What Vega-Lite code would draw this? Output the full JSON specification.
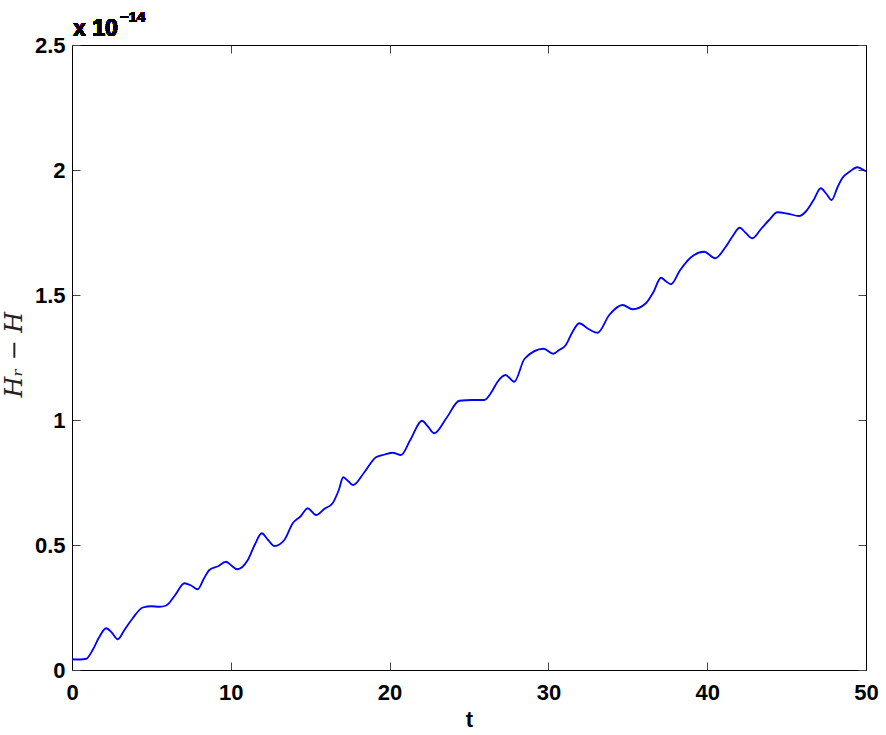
{
  "$schema": "https://vega.github.io/schema/vega-lite/v6.json",
  "autosize": {"type": "none"},
  "width": 794,
  "height": 625,
  "padding": {"left": 72, "top": 45, "right": 20, "bottom": 65},
  "background": "white",
  "config": {
    "view": {"stroke": null},
    "axis": {
      "grid": false,
      "domainColor": "#000",
      "domainWidth": 1,
      "tickColor": "#444",
      "tickWidth": 1,
      "tickSize": -8,
      "labelFlush": false,
      "labelOverlap": false,
      "labelFont": "Liberation Sans",
      "labelFontWeight": "bold",
      "labelFontSize": 22,
      "labelColor": "#000",
      "titleColor": "#000"
    }
  },
  "data": {
    "values": [
      {"t": 0, "v": 0.043}, {"t": 0.5, "v": 0.042}, {"t": 0.9, "v": 0.045}, {"t": 1.3, "v": 0.08},
      {"t": 1.7, "v": 0.13}, {"t": 2.15, "v": 0.167}, {"t": 2.5, "v": 0.15}, {"t": 2.88, "v": 0.123},
      {"t": 3.3, "v": 0.16}, {"t": 3.8, "v": 0.205}, {"t": 4.46, "v": 0.25}, {"t": 5.0, "v": 0.255},
      {"t": 5.5, "v": 0.253}, {"t": 5.93, "v": 0.258}, {"t": 6.5, "v": 0.3}, {"t": 7.08, "v": 0.347},
      {"t": 7.5, "v": 0.338}, {"t": 7.92, "v": 0.323}, {"t": 8.3, "v": 0.365}, {"t": 8.65, "v": 0.4},
      {"t": 9.2, "v": 0.415}, {"t": 9.7, "v": 0.433}, {"t": 10.0, "v": 0.42}, {"t": 10.4, "v": 0.403},
      {"t": 11.07, "v": 0.44}, {"t": 11.5, "v": 0.5}, {"t": 11.95, "v": 0.547}, {"t": 12.35, "v": 0.52},
      {"t": 12.75, "v": 0.496}, {"t": 13.37, "v": 0.52}, {"t": 13.9, "v": 0.587}, {"t": 14.4, "v": 0.615},
      {"t": 14.84, "v": 0.647}, {"t": 15.37, "v": 0.62}, {"t": 15.9, "v": 0.645}, {"t": 16.41, "v": 0.667},
      {"t": 16.8, "v": 0.72}, {"t": 17.08, "v": 0.771}, {"t": 17.4, "v": 0.755}, {"t": 17.71, "v": 0.74},
      {"t": 18.4, "v": 0.79}, {"t": 19.14, "v": 0.851}, {"t": 19.7, "v": 0.862}, {"t": 20.19, "v": 0.869},
      {"t": 20.72, "v": 0.86}, {"t": 21.3, "v": 0.92}, {"t": 22.04, "v": 0.997}, {"t": 22.4, "v": 0.975},
      {"t": 22.81, "v": 0.947}, {"t": 23.6, "v": 1.01}, {"t": 24.39, "v": 1.077}, {"t": 25.2, "v": 1.08},
      {"t": 25.96, "v": 1.08}, {"t": 26.4, "v": 1.11}, {"t": 26.8, "v": 1.153}, {"t": 27.3, "v": 1.18},
      {"t": 27.85, "v": 1.153}, {"t": 28.5, "v": 1.245}, {"t": 29.7, "v": 1.285}, {"t": 30.3, "v": 1.265},
      {"t": 30.68, "v": 1.28}, {"t": 31.1, "v": 1.3}, {"t": 31.5, "v": 1.35}, {"t": 31.94, "v": 1.387},
      {"t": 32.5, "v": 1.365}, {"t": 33.1, "v": 1.349}, {"t": 33.83, "v": 1.42}, {"t": 34.67, "v": 1.46},
      {"t": 35.3, "v": 1.443}, {"t": 36.14, "v": 1.467}, {"t": 36.6, "v": 1.51}, {"t": 37.09, "v": 1.569},
      {"t": 37.4, "v": 1.555}, {"t": 37.72, "v": 1.543}, {"t": 38.3, "v": 1.6}, {"t": 38.98, "v": 1.651},
      {"t": 39.81, "v": 1.673}, {"t": 40.5, "v": 1.647}, {"t": 41.17, "v": 1.693}, {"t": 41.6, "v": 1.735},
      {"t": 42.05, "v": 1.769}, {"t": 42.4, "v": 1.75}, {"t": 42.85, "v": 1.727}, {"t": 43.4, "v": 1.765},
      {"t": 43.9, "v": 1.8}, {"t": 44.42, "v": 1.831}, {"t": 45.1, "v": 1.825}, {"t": 45.78, "v": 1.816},
      {"t": 46.2, "v": 1.833}, {"t": 46.7, "v": 1.88}, {"t": 47.15, "v": 1.927}, {"t": 47.5, "v": 1.905},
      {"t": 47.84, "v": 1.88}, {"t": 48.2, "v": 1.93}, {"t": 48.5, "v": 1.967}, {"t": 49.0, "v": 1.995},
      {"t": 49.45, "v": 2.011}, {"t": 49.93, "v": 1.997}, {"t": 50, "v": 1.995}
    ]
  },
  "resolve": {"axis": {"x": "independent", "y": "independent"}},
  "layer": [
    {
      "mark": {"type": "line", "color": "#0000FF", "strokeWidth": 1.8, "interpolate": "monotone"},
      "encoding": {
        "x": {
          "field": "t", "type": "quantitative",
          "scale": {"domain": [0, 50], "nice": false, "zero": false},
          "axis": {
            "orient": "bottom", "values": [0, 10, 20, 30, 40, 50], "labelPadding": 20,
            "title": "t", "titleFont": "Liberation Sans", "titleFontWeight": "bold", "titleFontSize": 22,
            "titleX": 397, "titleY": 56, "titleBaseline": "alphabetic", "titleAlign": "center"
          }
        },
        "y": {
          "field": "v", "type": "quantitative",
          "scale": {"domain": [0, 2.5], "nice": false},
          "axis": {
            "orient": "left", "values": [0, 0.5, 1, 1.5, 2, 2.5], "format": "~g", "labelPadding": 15,
            "title": "Hᵣ − H", "titleFont": "DejaVu Serif", "titleFontStyle": "italic", "titleFontWeight": "normal",
            "titleFontSize": 24, "titleColor": "#222", "titleAngle": -90,
            "titleX": -51, "titleY": 352, "titleAlign": "left", "titleBaseline": "alphabetic"
          }
        }
      }
    },
    {
      "mark": {"type": "line", "opacity": 0},
      "encoding": {
        "x": {"field": "t", "type": "quantitative",
          "axis": {"orient": "top", "values": [0, 10, 20, 30, 40, 50], "labels": false, "title": null}},
        "y": {"field": "v", "type": "quantitative",
          "axis": {"orient": "right", "values": [0, 0.5, 1, 1.5, 2, 2.5], "labels": false, "title": null}}
      }
    },
    {
      "mark": {"type": "text", "text": "x 10", "font": "Liberation Sans", "fontWeight": "bold", "fontSize": 23,
        "align": "left", "baseline": "alphabetic", "dx": 1, "dy": -9, "color": "#000"},
      "encoding": {
        "x": {"datum": 0, "type": "quantitative", "axis": null},
        "y": {"datum": 2.5, "type": "quantitative", "axis": null}
      }
    },
    {
      "mark": {"type": "text", "text": "−14", "font": "Liberation Sans", "fontWeight": "bold", "fontSize": 15,
        "align": "left", "baseline": "alphabetic", "dx": 48, "dy": -23, "color": "#000"},
      "encoding": {
        "x": {"datum": 0, "type": "quantitative", "axis": null},
        "y": {"datum": 2.5, "type": "quantitative", "axis": null}
      }
    }
  ]
}
